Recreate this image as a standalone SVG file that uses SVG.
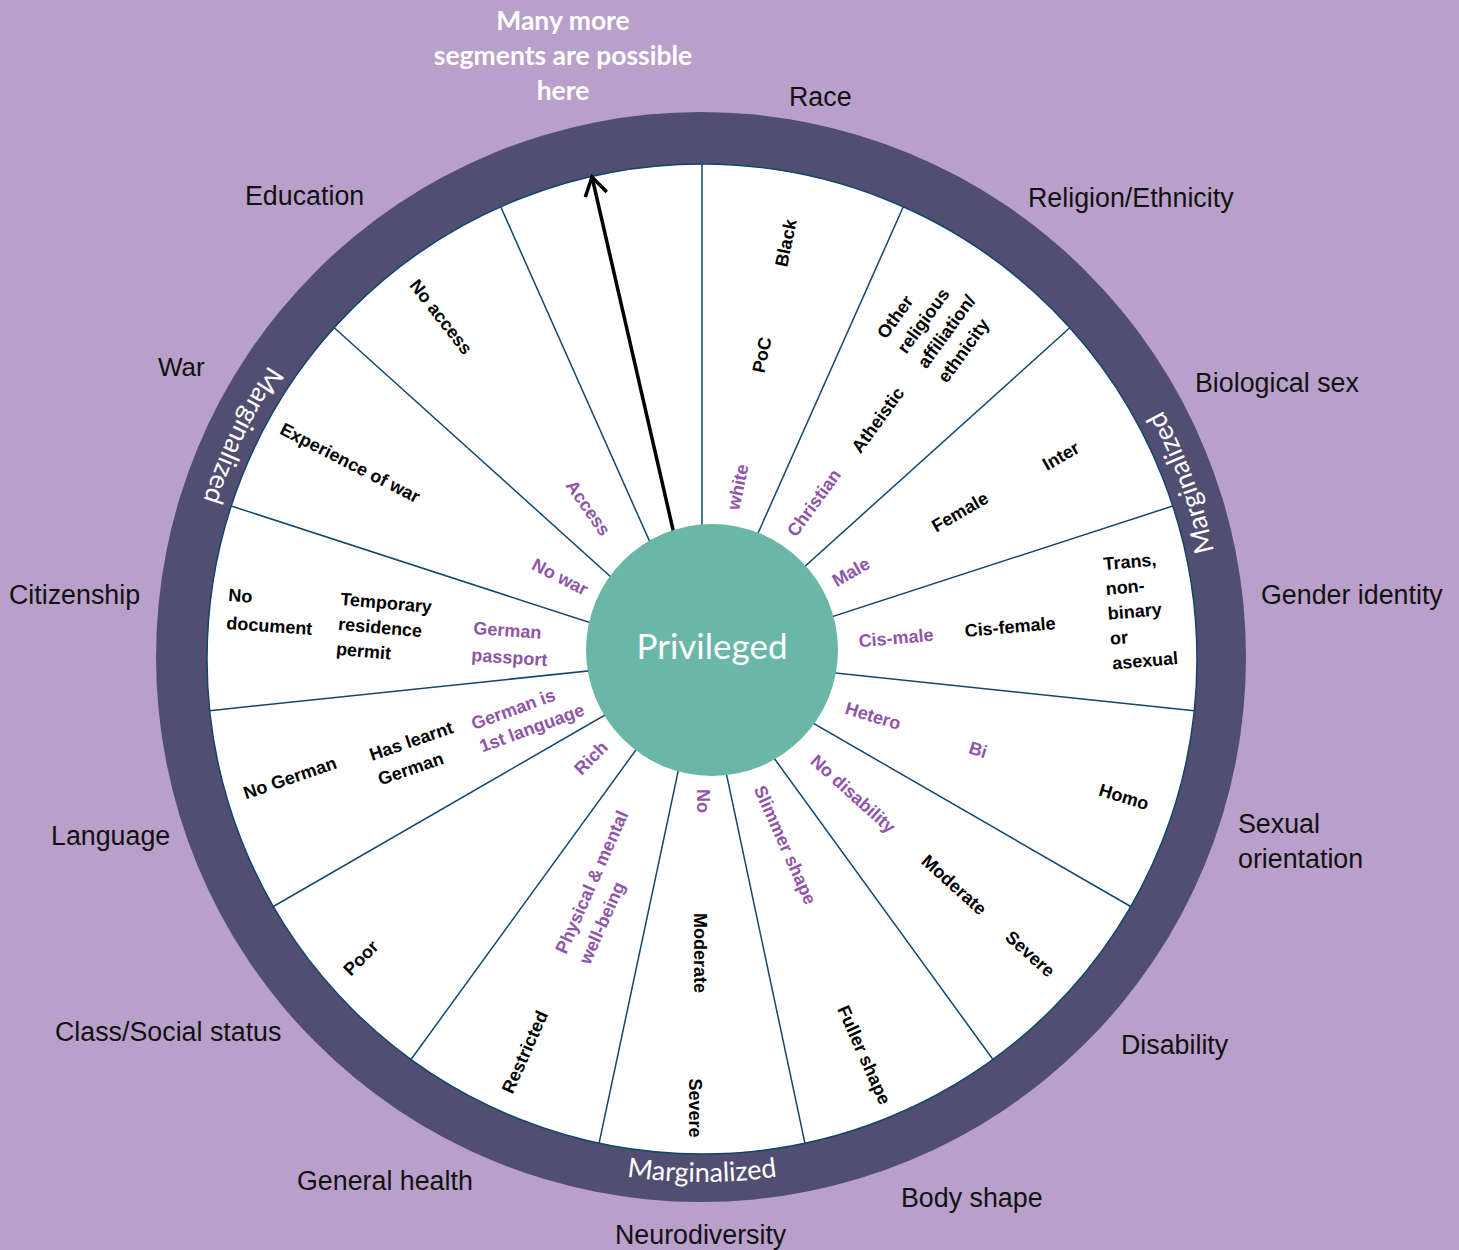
<svg xmlns="http://www.w3.org/2000/svg" width="1459" height="1250" viewBox="0 0 1459 1250">
<style>
.bg{fill:#b9a0ca}
.ring{fill:#514e71}
.disk{fill:#ffffff;stroke:#12466f;stroke-width:1.5}
.spoke{stroke:#12466f;stroke-width:1.5;fill:none}
.hub{fill:#6bb7a7}
.outer{font-family:"Liberation Sans",Arial,sans-serif;font-size:26.8px;fill:#111111}
.lab{font-family:"Liberation Sans",Arial,sans-serif;font-size:18px;font-weight:bold;fill:#000000}
.priv{font-family:"Liberation Sans",Arial,sans-serif;font-size:18px;font-weight:bold;fill:#8e55a8}
.marg{font-family:Lato,"Open Sans",sans-serif;font-size:27px;fill:#ffffff}
.more{font-family:Lato,"Open Sans",sans-serif;font-size:26.5px;font-weight:bold;fill:#ffffff}
.hubtext{font-family:Lato,"Open Sans",sans-serif;font-size:35px;fill:#ffffff}
.arrow{stroke:#000000;stroke-width:3.5;fill:none}
</style>
<defs>
<marker id="openhead" viewBox="0 -13 24 26" refX="21" refY="0" markerWidth="24" markerHeight="26" markerUnits="userSpaceOnUse" orient="auto">
<path d="M3,-11 L21,0 L3,11" fill="none" stroke="#000000" stroke-width="3.5"/>
</marker>
<path id="ringpath" d="M702,136 A523,523 0 1 0 702,1182 A523,523 0 1 0 702,136"/>
</defs>
<rect class="bg" x="0" y="0" width="1459" height="1250"/>
<g id="wheel">
<circle class="ring" cx="701" cy="657" r="545"/>
<circle class="disk" cx="702" cy="659" r="495"/>
<text class="marg" text-anchor="middle"><textPath href="#ringpath" startOffset="17.8%">Marginalized</textPath></text>
<text class="marg" text-anchor="middle"><textPath href="#ringpath" startOffset="50%">Marginalized</textPath></text>
<text class="marg" text-anchor="middle"><textPath href="#ringpath" startOffset="80.6%">Marginalized</textPath></text>
</g>
<g id="connectors">
<line class="spoke" x1="702" y1="659" x2="702" y2="164"/>
<line class="spoke" x1="702" y1="659" x2="903.3" y2="206.8"/>
<line class="spoke" x1="702" y1="659" x2="1069.8" y2="327.8"/>
<line class="spoke" x1="702" y1="659" x2="1172.8" y2="506"/>
<line class="spoke" x1="702" y1="659" x2="1194.3" y2="710.7"/>
<line class="spoke" x1="702" y1="659" x2="1130.7" y2="906.5"/>
<line class="spoke" x1="702" y1="659" x2="993" y2="1059.5"/>
<line class="spoke" x1="702" y1="659" x2="804.9" y2="1143.2"/>
<line class="spoke" x1="702" y1="659" x2="599.1" y2="1143.2"/>
<line class="spoke" x1="702" y1="659" x2="411" y2="1059.5"/>
<line class="spoke" x1="702" y1="659" x2="273.3" y2="906.5"/>
<line class="spoke" x1="702" y1="659" x2="209.7" y2="710.7"/>
<line class="spoke" x1="702" y1="659" x2="231.2" y2="506"/>
<line class="spoke" x1="702" y1="659" x2="334.2" y2="327.8"/>
<line class="spoke" x1="702" y1="659" x2="500.7" y2="206.8"/>
<line class="arrow" x1="674" y1="534" x2="592" y2="177" marker-end="url(#openhead)"/>
</g>
<g id="hub">
<circle class="hub" cx="712" cy="650" r="126"/>
<text class="hubtext" x="712" y="659" text-anchor="middle">Privileged</text>
</g>
<g id="seg-more">
<text class="more" x="563" y="30" text-anchor="middle">Many more</text>
<text class="more" x="563" y="65" text-anchor="middle">segments are possible</text>
<text class="more" x="563" y="100" text-anchor="middle">here</text>
</g>
<g id="seg-race">
<text class="outer" x="789" y="106">Race</text>
<text class="priv" transform="translate(738,487) rotate(-78)" y="6" text-anchor="middle">white</text>
<text class="lab" transform="translate(762,355) rotate(-78)" y="6" text-anchor="middle">PoC</text>
<text class="lab" transform="translate(786,243) rotate(-78)" y="6" text-anchor="middle">Black</text>
</g>
<g id="seg-religion">
<text class="outer" x="1028" y="207">Religion/Ethnicity</text>
<text class="priv" transform="translate(814,503) rotate(-54)" y="6" text-anchor="middle">Christian</text>
<text class="lab" transform="translate(878,420) rotate(-54)" y="6" text-anchor="middle">Atheistic</text>
<g transform="translate(886,340) rotate(-54)">
<text class="lab" x="0" y="0">Other</text>
<text class="lab" x="0" y="25">religious</text>
<text class="lab" x="0" y="50">affiliation/</text>
<text class="lab" x="0" y="75">ethnicity</text>
</g>
</g>
<g id="seg-sex">
<text class="outer" x="1195" y="392">Biological sex</text>
<text class="priv" transform="translate(851,572) rotate(-30)" y="6" text-anchor="middle">Male</text>
<text class="lab" transform="translate(960,512) rotate(-30)" y="6" text-anchor="middle">Female</text>
<text class="lab" transform="translate(1061,456) rotate(-30)" y="6" text-anchor="middle">Inter</text>
</g>
<g id="seg-gender">
<text class="outer" x="1261" y="604">Gender identity</text>
<text class="priv" transform="translate(896,638) rotate(-5)" y="6" text-anchor="middle">Cis-male</text>
<text class="lab" transform="translate(1010,627) rotate(-5)" y="6" text-anchor="middle">Cis-female</text>
<g transform="translate(1104,570) rotate(-5)">
<text class="lab" x="0" y="0">Trans,</text>
<text class="lab" x="0" y="25">non-</text>
<text class="lab" x="0" y="50">binary</text>
<text class="lab" x="0" y="75">or</text>
<text class="lab" x="0" y="100">asexual</text>
</g>
</g>
<g id="seg-orientation">
<text class="outer" x="1238" y="833">Sexual</text>
<text class="outer" x="1238" y="868">orientation</text>
<text class="priv" transform="translate(873,716) rotate(17)" y="6" text-anchor="middle">Hetero</text>
<text class="priv" transform="translate(978,750) rotate(17)" y="6" text-anchor="middle">Bi</text>
<text class="lab" transform="translate(1124,797) rotate(17)" y="6" text-anchor="middle">Homo</text>
</g>
<g id="seg-disability">
<text class="outer" x="1121" y="1054">Disability</text>
<text class="priv" transform="translate(853,794) rotate(42)" y="6" text-anchor="middle">No disability</text>
<text class="lab" transform="translate(954,885) rotate(42)" y="6" text-anchor="middle">Moderate</text>
<text class="lab" transform="translate(1030,954) rotate(42)" y="6" text-anchor="middle">Severe</text>
</g>
<g id="seg-body">
<text class="outer" x="901" y="1207">Body shape</text>
<text class="priv" transform="translate(785,845) rotate(66)" y="6" text-anchor="middle">Slimmer shape</text>
<text class="lab" transform="translate(864,1055) rotate(66)" y="6" text-anchor="middle">Fuller shape</text>
</g>
<g id="seg-neuro">
<text class="outer" x="615" y="1244">Neurodiversity</text>
<text class="priv" transform="translate(703,801) rotate(90)" y="6" text-anchor="middle">No</text>
<text class="lab" transform="translate(700,953) rotate(90)" y="6" text-anchor="middle">Moderate</text>
<text class="lab" transform="translate(695,1108) rotate(90)" y="6" text-anchor="middle">Severe</text>
</g>
<g id="seg-health">
<text class="outer" x="297" y="1190">General health</text>
<g transform="translate(566,955) rotate(-66)">
<text class="priv" x="0" y="0">Physical &amp; mental</text>
<text class="priv" x="0" y="26">well-being</text>
</g>
<text class="lab" transform="translate(525,1052) rotate(-66)" y="6" text-anchor="middle">Restricted</text>
</g>
<g id="seg-class">
<text class="outer" x="55" y="1041">Class/Social status</text>
<text class="priv" transform="translate(591,758) rotate(-45)" y="6" text-anchor="middle">Rich</text>
<text class="lab" transform="translate(361,958) rotate(-45)" y="6" text-anchor="middle">Poor</text>
</g>
<g id="seg-language">
<text class="outer" x="51" y="845">Language</text>
<text class="lab" transform="translate(290,778) rotate(-19)" y="6" text-anchor="middle">No German</text>
<g transform="translate(372,761) rotate(-19)">
<text class="lab" x="0" y="0">Has learnt</text>
<text class="lab" x="0" y="26">German</text>
</g>
<g transform="translate(474,730) rotate(-20)">
<text class="priv" x="0" y="0">German is</text>
<text class="priv" x="0" y="24">1st language</text>
</g>
</g>
<g id="seg-citizenship">
<text class="outer" x="9" y="604">Citizenship</text>
<g transform="translate(228,601) rotate(4)">
<text class="lab" x="0" y="0">No</text>
<text class="lab" x="0" y="28">document</text>
</g>
<g transform="translate(340,605) rotate(5)">
<text class="lab" x="0" y="0">Temporary</text>
<text class="lab" x="0" y="25">residence</text>
<text class="lab" x="0" y="50">permit</text>
</g>
<g transform="translate(473,634) rotate(4)">
<text class="priv" x="0" y="0">German</text>
<text class="priv" x="0" y="27">passport</text>
</g>
</g>
<g id="seg-war">
<text class="outer" x="158" y="376" style="font-size:26px">War</text>
<text class="lab" transform="translate(350,463) rotate(27)" y="6" text-anchor="middle">Experience of war</text>
<text class="priv" transform="translate(560,577) rotate(27)" y="6" text-anchor="middle">No war</text>
</g>
<g id="seg-education">
<text class="outer" x="245" y="205">Education</text>
<text class="lab" transform="translate(441,317) rotate(52)" y="6" text-anchor="middle">No access</text>
<text class="priv" transform="translate(588,508) rotate(55)" y="6" text-anchor="middle">Access</text>
</g>
</svg>
